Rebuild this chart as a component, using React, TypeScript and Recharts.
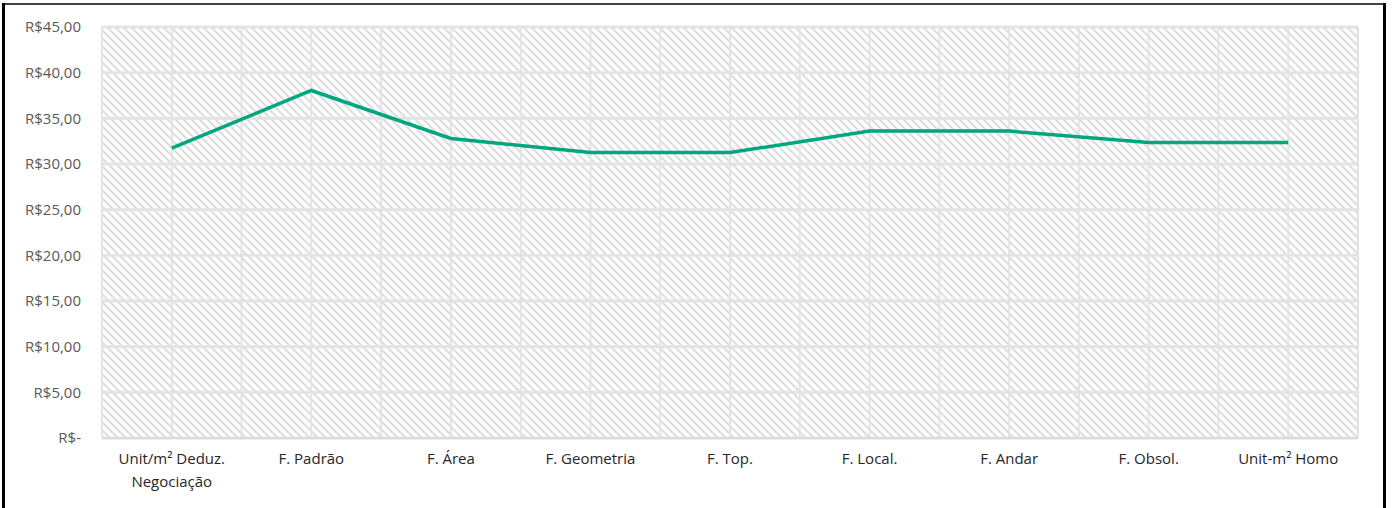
import { ComposedChart, Line, XAxis, YAxis, CartesianGrid } from 'recharts';

const categories = [
  'Unit/m² Deduz. Negociação',
  'F. Padrão',
  'F. Área',
  'F. Geometria',
  'F. Top.',
  'F. Local.',
  'F. Andar',
  'F. Obsol.',
  'Unit-m² Homo',
];

const values = [31.75, 38.05, 32.8, 31.25, 31.25, 33.6, 33.6, 32.35, 32.35];

const yTicks = [0, 5, 10, 15, 20, 25, 30, 35, 40, 45];

const data = categories.map((name, i) => ({ name, value: values[i] }));

const fontFamily = '"Open Sans", sans-serif';

const W = 1392;
const H = 508;
const margin = { top: 27, right: 34, left: 12, bottom: 10 };
const yAxisWidth = 90;
// half a category band, so points sit in the middle of each band
const halfBand = (W - margin.left - margin.right - yAxisWidth) / (categories.length * 2);

const formatMoney = (v: number) => (v === 0 ? 'R$-' : `R$${v.toFixed(2).replace('.', ',')}`);

function wrapLabel(label: string, maxChars = 16): string[] {
  const words = label.split(' ');
  const lines: string[] = [];
  let cur = '';
  for (const w of words) {
    const next = cur ? cur + ' ' + w : w;
    if (next.length > maxChars && cur) {
      lines.push(cur);
      cur = w;
    } else {
      cur = next;
    }
  }
  if (cur) lines.push(cur);
  return lines;
}

function XTick({ x, y, payload }: any) {
  const lines = wrapLabel(payload.value);
  return (
    <text x={x} y={y} textAnchor="middle" fill="#262626" fontSize={15} fontFamily={fontFamily}>
      {lines.map((line, i) => (
        <tspan key={i} x={x} dy={i === 0 ? 26 : 23}>
          {line}
        </tspan>
      ))}
    </text>
  );
}

export default function App() {
  return (
    <div style={{ width: W, height: H, background: '#fff' }}>
      <style>{'body { margin: 0; }'}</style>
      <ComposedChart width={W} height={H} data={data} margin={margin}>
        <defs>
          <pattern id="hatch" width={8} height={8} patternUnits="userSpaceOnUse">
            <rect width={8} height={8} fill="#fff" />
            <path d="M0,0 L8,8 M-2,6 L2,10 M6,-2 L10,2" stroke="#dedede" strokeWidth={2.2} />
          </pattern>
        </defs>
        {/* outer frame of the chart box */}
        <g className="chart-frame">
          <line x1={2} y1={4} x2={1386} y2={4} stroke="#404040" strokeWidth={2} />
          <line x1={3.5} y1={3} x2={3.5} y2={H} stroke="#000" strokeWidth={3} />
          <line x1={1384.5} y1={3} x2={1384.5} y2={H} stroke="#000" strokeWidth={3} />
        </g>
        <CartesianGrid vertical={false} stroke="#e3e3e3" strokeWidth={3} fill="url(#hatch)" fillOpacity={1} />
        <CartesianGrid
          horizontal={false}
          stroke="#e3e3e3"
          strokeWidth={2}
          verticalCoordinatesGenerator={({ offset }: any) =>
            Array.from({ length: categories.length * 2 + 1 }, (_, i) => offset.left + (i * offset.width) / (categories.length * 2))
          }
        />
        <XAxis
          dataKey="name"
          interval={0}
          padding={{ left: halfBand, right: halfBand }}
          tickLine={false}
          tickSize={0}
          tickMargin={0}
          axisLine={{ stroke: '#d9d9d9', strokeWidth: 1.5 }}
          height={60}
          tick={<XTick />}
        />
        <YAxis
          domain={[0, 45]}
          ticks={yTicks}
          tickFormatter={formatMoney}
          axisLine={false}
          tickLine={false}
          tickSize={0}
          tickMargin={21}
          width={yAxisWidth}
          tick={{ fill: '#595959', fontSize: 15, fontFamily }}
        />
        <Line
          type="linear"
          dataKey="value"
          stroke="#00A67E"
          strokeWidth={3.5}
          dot={false}
          activeDot={false}
          isAnimationActive={false}
        />
      </ComposedChart>
    </div>
  );
}
